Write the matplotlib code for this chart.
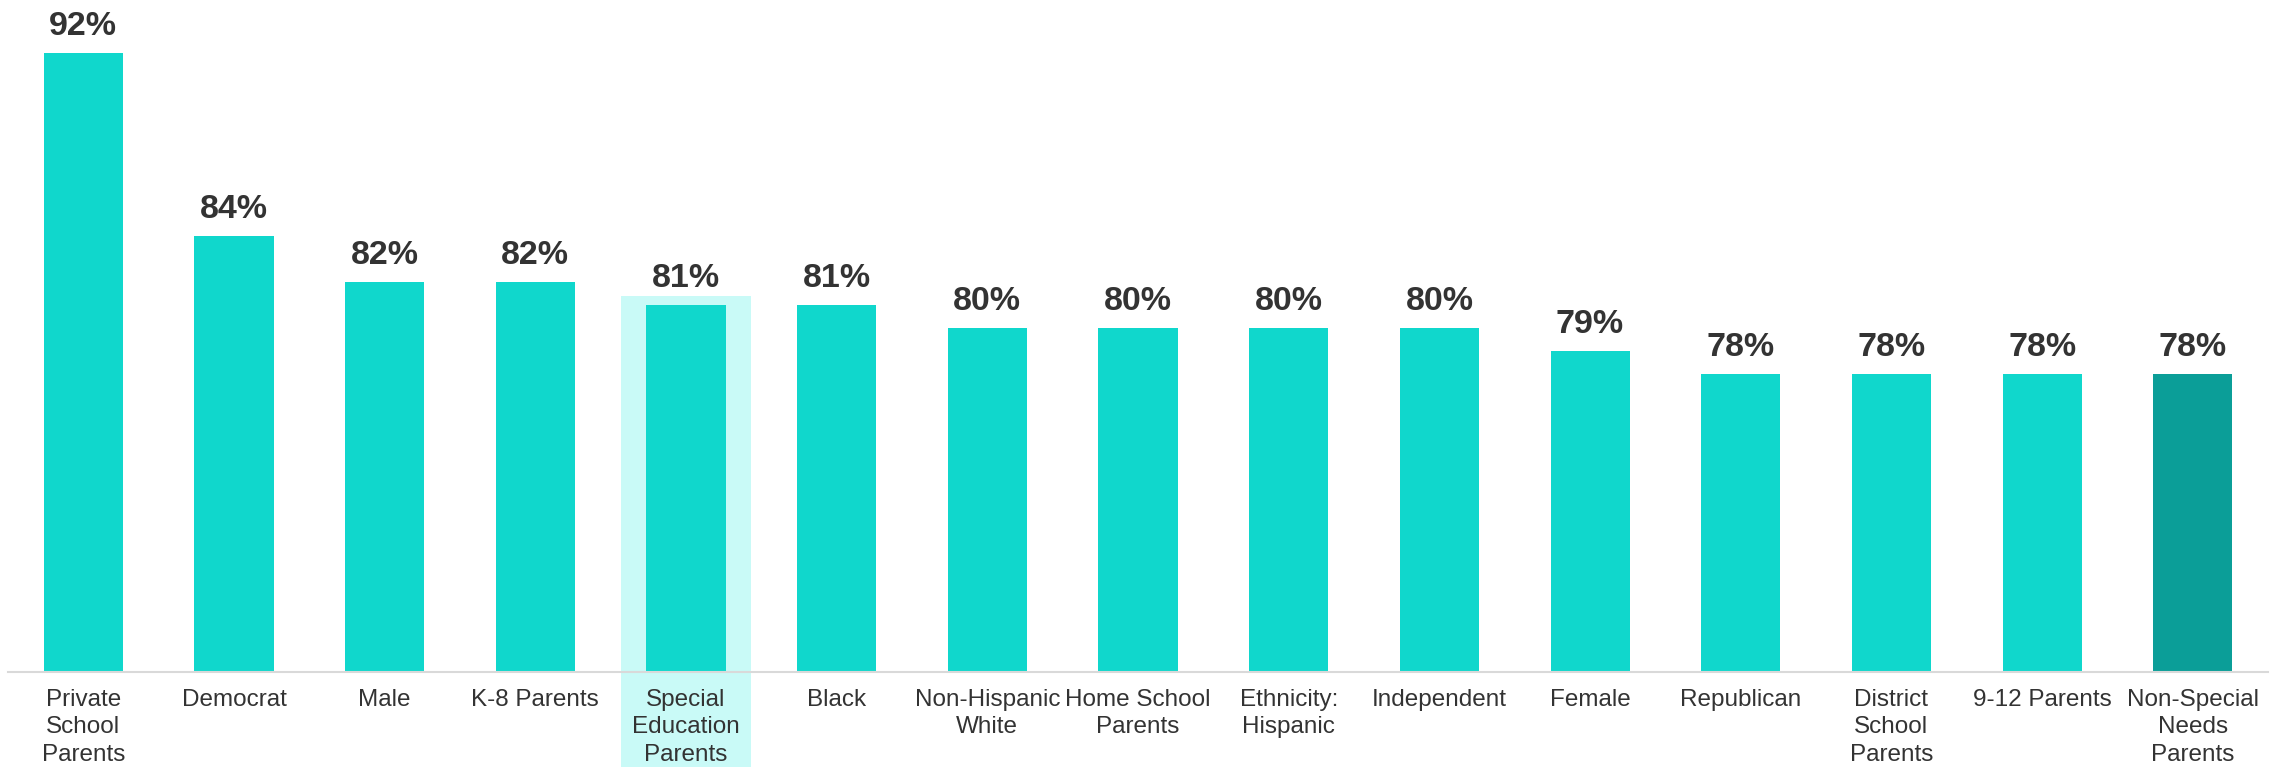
import matplotlib
matplotlib.use("Agg")
import matplotlib.pyplot as plt
import numpy as np
from matplotlib.patches import Rectangle

# data
categories = ["Private\nSchool\nParents", "Democrat", "Male", "K-8 Parents",
              "Special\nEducation\nParents", "Black", "Non-Hispanic\nWhite",
              "Home School\nParents", "Ethnicity:\nHispanic", "Independent",
              "Female", "Republican", "District\nSchool\nParents",
              "9-12 Parents", "Non-Special\nNeeds\nParents"]
values = [92, 84, 82, 82, 81, 81, 80, 80, 80, 80, 79, 78, 78, 78, 78]
highlight_idx = 4
dark_idx = 14

BAR = "#10d7cc"
DARK = "#0b9e98"
HILITE = "#c9faf7"
TXT = "#333333"

plt.rcParams['font.family'] = ['Liberation Sans', 'DejaVu Sans']

fig = plt.figure(figsize=(22.82, 7.67), dpi=100)
ax = fig.add_axes([0.0035, 0.1239, 0.9904, 0.8761])

x = np.arange(len(categories))
colors = [DARK if i == dark_idx else BAR for i in x]
bars = ax.bar(x, values, width=0.525, color=colors, zorder=3)

ymin, ymax = 65, 94.3
ax.set_ylim(ymin, ymax)
ax.set_xlim(-0.5, len(categories) - 0.5)

# highlight box behind the special education column (runs past the axes bottom)
hx = highlight_idx
ax.add_patch(Rectangle((hx - 0.43, ymin - 30), 0.86, values[hx] + 0.4 - (ymin - 30),
                       facecolor=HILITE, edgecolor="none", zorder=1, clip_on=False))

for b, v in zip(bars, values):
    ax.annotate(f"{v}%", (b.get_x() + b.get_width() / 2, v), xytext=(0, 8),
                textcoords="offset points", ha="center", va="bottom",
                fontsize=24.5, fontweight="bold", color=TXT)

ax.set_xticks(x)
ax.set_xticklabels(categories, fontsize=17.5, color=TXT, linespacing=1.33, va="top")
ax.tick_params(axis="x", length=0, pad=12)
ax.set_yticks([])
for s in ["top", "right", "left"]:
    ax.spines[s].set_visible(False)
ax.spines["bottom"].set_color("#d9d9d9")
ax.spines["bottom"].set_linewidth(1.5)
ax.spines["bottom"].set_zorder(4)

fig.savefig("out.png", dpi=100, facecolor="white")
